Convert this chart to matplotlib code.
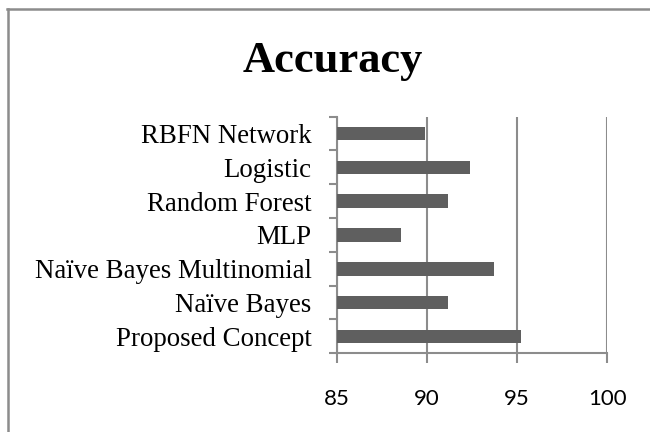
import matplotlib
matplotlib.use("Agg")
import matplotlib.pyplot as plt
from matplotlib.lines import Line2D

# data
models = ["Proposed Concept", "Naïve Bayes", "Naïve Bayes Multinomial", "MLP",
          "Random Forest", "Logistic", "RBFN Network"]
accuracy = [95.2, 91.2, 93.7, 88.6, 91.2, 92.4, 89.9]
x_ticks = [85, 90, 95, 100]

BAR_COLOR = "#5f5f5f"
GRID_COLOR = "#8c8c8c"

fig = plt.figure(figsize=(6.5, 4.32), dpi=100)
ax = fig.add_axes([0.5177, 0.1822, 0.4166, 0.5477])

pos = list(range(len(models)))
ax.barh(pos, [a - 85 for a in accuracy], left=85, height=0.4, color=BAR_COLOR, zorder=3)

ax.set_xlim(85, 100)
ax.set_ylim(-0.5, len(models) - 0.5)
ax.set_xticks(x_ticks)
ax.set_xticklabels([str(t) for t in x_ticks], family="Lato", fontsize=16)
ax.set_yticks(pos)
ax.set_yticklabels(models, family="Liberation Serif", fontsize=19.4)
ax.set_yticks([p + 0.5 for p in range(-1, len(models))], minor=True)

ax.grid(axis="x", color=GRID_COLOR, linewidth=1.5, zorder=0)
for s in ["top", "right"]:
    ax.spines[s].set_visible(False)
for s in ["left", "bottom"]:
    ax.spines[s].set_color(GRID_COLOR)
    ax.spines[s].set_linewidth(1.5)

ax.tick_params(axis="y", which="major", length=0, pad=18)
ax.tick_params(axis="y", which="minor", length=6, width=1.5, color=GRID_COLOR)
ax.tick_params(axis="x", length=7, width=1.5, color=GRID_COLOR, pad=19)

fig.text(0.5115, 0.834, "Accuracy", ha="center", va="baseline",
         family="Liberation Serif", fontweight="bold", fontsize=32)

# frame lines at the top and left of the picture
fig.add_artist(Line2D([0.012, 0.012], [0, 0.98], transform=fig.transFigure,
                      color=GRID_COLOR, linewidth=1.8))
fig.add_artist(Line2D([0.011, 1], [0.98, 0.98], transform=fig.transFigure,
                      color=GRID_COLOR, linewidth=1.8))

fig.savefig("out.png", dpi=100)
